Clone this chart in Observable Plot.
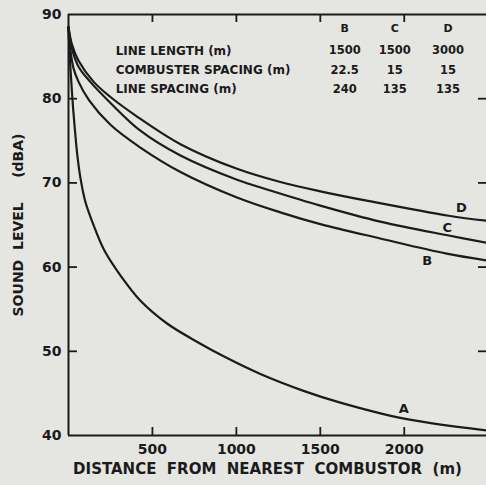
<!DOCTYPE html>
<html><head><meta charset="utf-8">
<script src="https://cdn.jsdelivr.net/npm/d3@7"></script>
<script src="https://cdn.jsdelivr.net/npm/@observablehq/plot@0.6"></script>
<style>
html,body{margin:0;padding:0;background:#e5e5e2;}
svg{display:block;}
</style></head><body><div id="chart"></div>
<script>
// ---- data ----
const seriesNames = ["A", "B", "C", "D"];
const distA  = [0, 5, 15, 28, 40, 52, 71, 100, 151, 213, 310, 429, 587, 786, 924, 1143, 1400, 1619, 2000, 2490];
const levelA = [88.3, 86, 82.5, 78.7, 75.9, 73.4, 70.6, 67.8, 64.9, 62.0, 59.0, 56.0, 53.3, 50.9, 49.4, 47.3, 45.3, 43.9, 42.0, 40.6];
const distB  = [0, 10, 30, 60, 123, 250, 428, 667, 1000, 1262, 1500, 1857, 2253, 2490];
const levelB = [88.5, 86, 83.6, 82, 79.8, 76.9, 74.2, 71.3, 68.3, 66.5, 65.1, 63.4, 61.6, 60.8];
const distC  = [0, 20, 60, 130, 250, 428, 667, 1000, 1202, 1500, 1857, 2265, 2490];
const levelC = [88.5, 86, 83.8, 82, 79.5, 76.2, 73.25, 70.4, 69.1, 67.3, 65.4, 63.75, 62.9];
const distD  = [0, 20, 60, 150, 250, 400, 667, 1000, 1262, 1500, 1800, 2265, 2490];
const levelD = [88.5, 86.5, 84.5, 82, 80.2, 78, 74.6, 71.7, 70.1, 69, 67.8, 66.1, 65.5];

const xTicks = [500, 1000, 1500, 2000];
const yTicks = [40, 50, 60, 70, 80, 90];
const yInnerTicks = [50, 60, 70, 80];

const tableHeads = ["B", "C", "D"];
const tableRowLabels = ["LINE LENGTH (m)", "COMBUSTER SPACING (m)", "LINE SPACING (m)"];
const tableValues = [["1500", "1500", "3000"], ["22.5", "15", "15"], ["240", "135", "135"]];

const xTitle = "DISTANCE\u00a0 FROM\u00a0 NEAREST\u00a0 COMBUSTOR\u00a0 (m)";
const yTitle = "SOUND\u00a0 LEVEL\u00a0\u00a0\u00a0\u00a0 (dBA)";

// ---- build ----
const dists = [distA, distB, distC, distD];
const levels = [levelA, levelB, levelC, levelD];
const curves = seriesNames.flatMap((s, i) => dists[i].map((d, j) => ({series: s, d, v: levels[i][j]})));

const ink = "#1b1b1b";
const font = "DejaVu Sans";
const W = 486, H = 485, mL = 68, mR = 0, mT = 14, mB = 50;
const fw = W - mL - mR, fh = H - mT - mB;

// layout of annotations (data coordinates)
const colX = [1645, 1944, 2261];
const headY = 88.3;
const rowY = [85.7, 83.35, 81.1];
const rowLabelX = 281;
const tableCells = tableValues.flatMap((r, i) => r.map((t, j) => ({t, x: colX[j], y: rowY[i]})));
const heads = tableHeads.map((t, j) => ({t, x: colX[j], y: headY}));
const rows = tableRowLabels.map((t, i) => ({t, x: rowLabelX, y: rowY[i]}));
const labelPos = {A: [1997, 43.2], B: [2137, 60.8], C: [2256, 64.7], D: [2341, 67.05]};
const curveLabels = seriesNames.map(s => ({t: s, x: labelPos[s][0], y: labelPos[s][1]}));

const chart = Plot.plot({
  width: W, height: H,
  marginLeft: mL, marginRight: mR, marginTop: mT, marginBottom: mB,
  style: {background: "#e5e5e2", fontFamily: font, color: ink},
  x: {domain: [0, 2490], axis: null},
  y: {domain: [40, 90], axis: null},
  marks: [
    Plot.ruleY([40, 90], {stroke: ink, strokeWidth: 2}),
    Plot.ruleX([0], {stroke: ink, strokeWidth: 2}),
    Plot.ruleX(xTicks, {x: d => d, insetTop: fh - 8, stroke: ink, strokeWidth: 1.8}),
    Plot.ruleX(xTicks, {x: d => d, insetBottom: fh - 8, stroke: ink, strokeWidth: 1.8}),
    Plot.ruleY(yInnerTicks, {y: d => d, insetRight: fw - 9, stroke: ink, strokeWidth: 1.8}),
    Plot.ruleY(yInnerTicks, {y: d => d, insetLeft: fw - 8, stroke: ink, strokeWidth: 1.8}),
    Plot.axisX(xTicks, {anchor: "bottom", tickSize: 0, tickPadding: 9, label: null, tickFormat: d => String(d), fontSize: 14, fontWeight: "bold", fill: ink}),
    Plot.axisY(yTicks, {anchor: "left", tickSize: 0, tickPadding: 7, label: null, tickFormat: d => String(d), fontSize: 14, fontWeight: "bold", fill: ink}),
    Plot.line(curves, {x: "d", y: "v", z: "series", curve: "catmull-rom", stroke: ink, strokeWidth: 2.2}),
    Plot.text(curveLabels, {x: "x", y: "y", text: "t", fontSize: 13, fontWeight: "bold", fill: ink}),
    Plot.text(heads, {x: "x", y: "y", text: "t", fontSize: 11, fontWeight: "bold", fill: ink}),
    Plot.text(tableCells, {x: "x", y: "y", text: "t", fontSize: 11.5, fontWeight: "bold", fill: ink}),
    Plot.text(rows, {x: "x", y: "y", text: "t", textAnchor: "start", fontSize: 12, fontWeight: "bold", fill: ink}),
    Plot.text([xTitle], {frameAnchor: "bottom", dy: 38, dx: -10, fontSize: 15, fontWeight: "bold", fill: ink}),
    Plot.text([yTitle], {frameAnchor: "left", textAnchor: "middle", dx: -50, rotate: -90, fontSize: 14, fontWeight: "bold", fill: ink})
  ]
});
document.getElementById("chart").appendChild(chart);
</script>
</body></html>
